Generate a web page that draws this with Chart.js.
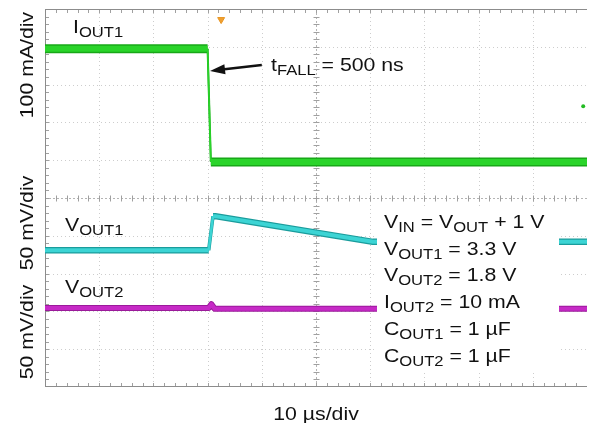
<!DOCTYPE html>
<html>
<head>
<meta charset="utf-8">
<script src="https://cdn.jsdelivr.net/npm/chart.js@4.4.1/dist/chart.umd.min.js"></script>
<style>
  html, body { margin: 0; padding: 0; background: #fff; }
  #scope { display: block; }
</style>
</head>
<body>
<canvas id="scope" width="592" height="423"></canvas>
<script>
// Time base: 10 us/div over 10 divisions
const timeSpanUs = 100;
const divisions = 10;

// I_OUT1 load step (mA)
const iout1TimeUs = [0, 30.0, 30.6, 100];
const iout1mA = [300, 300, 0, 0];

// V_OUT1 deviation from its DC level (mV)
const vout1TimeUs = [0, 30.2, 31.0, 31.4, 60.5, 100];
const vout1mV = [0, 0, 45, 45, 11, 11];

// V_OUT2 deviation from its DC level (mV)
const vout2TimeUs = [0, 30.2, 30.7, 31.3, 100];
const vout2mV = [0, 0, 5, -1, -1];

// Screen markers: trigger position and channel 1 reference
const triggerTimeUs = 32.5;
const ch1MarkerTimeUs = 99.3;
const ch1MarkerMA = 148;

// Channel settings: units per division and where zero sits (divisions from bottom)
const ch1 = { perDiv: 100, zeroDiv: 5.95 };
const ch2 = { perDiv: 50, zeroDiv: 3.62 };
const ch3 = { perDiv: 50, zeroDiv: 2.09 };

const axisLabels = ['100 mA/div', '50 mV/div', '50 mV/div'];
const timeLabel = '10 \u00b5s/div';
const conditions = [
  'V_{IN} = V_{OUT} + 1 V',
  'V_{OUT1} = 3.3 V',
  'V_{OUT2} = 1.8 V',
  'I_{OUT2} = 10 mA',
  'C_{OUT1} = 1 \u00b5F',
  'C_{OUT2} = 1 \u00b5F'
];

const FONT = '"Liberation Sans", Arial, Helvetica, sans-serif';
const FONT_SIZE = 18.5;
const STRETCH = 1.15;

function toPoints(xs, ys) {
  return xs.map((t, i) => ({ x: t, y: ys[i] }));
}

function channelRange(ch) {
  return { min: -ch.zeroDiv * ch.perDiv, max: (divisions - ch.zeroDiv) * ch.perDiv };
}

// Fast edges draw thin, like on the scope screen
function steep(ctx) {
  return Math.abs(ctx.p1.x - ctx.p0.x) < 6 && Math.abs(ctx.p1.y - ctx.p0.y) > 15;
}

function trace(data, axis, color, width, edgeWidth) {
  return {
    data: data,
    yAxisID: axis,
    borderColor: color,
    borderWidth: width,
    pointRadius: 0,
    tension: 0,
    borderJoinStyle: 'round',
    segment: {
      borderWidth: ctx => steep(ctx) ? edgeWidth : width
    }
  };
}

function line(ctx, x1, y1, x2, y2) {
  ctx.beginPath();
  ctx.moveTo(x1, y1);
  ctx.lineTo(x2, y2);
  ctx.stroke();
}

// Text with _{...} subscripts, slightly widened
function drawRich(ctx, text, x, y) {
  const parts = text.split(/_\{([^}]*)\}/);
  ctx.save();
  ctx.translate(x, y);
  ctx.scale(STRETCH, 1);
  ctx.textBaseline = 'alphabetic';
  ctx.textAlign = 'left';
  let cx = 0;
  parts.forEach((txt, i) => {
    const sub = i % 2 === 1;
    ctx.font = `${sub ? FONT_SIZE * 0.78 : FONT_SIZE}px ${FONT}`;
    ctx.fillText(txt, cx, sub ? 4 : 0);
    cx += ctx.measureText(txt).width;
  });
  ctx.restore();
}

function drawRotated(ctx, text, x, y) {
  ctx.save();
  ctx.translate(x, y);
  ctx.rotate(-Math.PI / 2);
  ctx.scale(STRETCH, 1);
  ctx.font = `${FONT_SIZE}px ${FONT}`;
  ctx.textAlign = 'center';
  ctx.textBaseline = 'alphabetic';
  ctx.fillText(text, 0, 0);
  ctx.restore();
}

const graticule = {
  id: 'graticule',
  beforeDatasetsDraw(chart) {
    const { ctx, chartArea: a, scales } = chart;
    const xs = scales.x, yd = scales.yDiv;
    const px = v => Math.round(xs.getPixelForValue(v)) + 0.5;
    const py = v => Math.round(yd.getPixelForValue(v)) + 0.5;
    const step = timeSpanUs / divisions;
    ctx.save();
    ctx.lineWidth = 1;

    // dotted division lines
    ctx.strokeStyle = '#cdcdcd';
    ctx.setLineDash([1, 3]);
    for (let k = 1; k < divisions; k++) {
      if (k === divisions / 2) continue;
      line(ctx, px(k * step), a.top, px(k * step), a.bottom);
      line(ctx, a.left, py(k), a.right, py(k));
    }

    // centre axes
    const cx = px(timeSpanUs / 2), cy = py(divisions / 2);
    ctx.strokeStyle = '#b4b4b4';
    ctx.setLineDash([2, 2]);
    line(ctx, cx, a.top, cx, a.bottom);
    line(ctx, a.left, cy, a.right, cy);
    ctx.setLineDash([]);

    // minor ticks every 1/5 division on centre axes and frame
    ctx.strokeStyle = '#a0a0a0';
    for (let m = 1; m < divisions * 5; m++) {
      const tx = px(m * step / 5);
      const ty = py(m / 5);
      line(ctx, tx, cy - 3, tx, cy + 3);
      line(ctx, cx - 3, ty, cx + 3, ty);
      line(ctx, tx, a.top, tx, a.top + 4);
      line(ctx, tx, a.bottom - 4, tx, a.bottom);
      line(ctx, a.left, ty, a.left + 4, ty);
    }

    // frame
    ctx.strokeStyle = '#8c8c8c';
    line(ctx, a.left + 0.5, a.top + 0.5, a.right, a.top + 0.5);
    line(ctx, a.left + 0.5, a.top, a.left + 0.5, a.bottom);
    line(ctx, a.left, a.bottom - 0.5, a.right, a.bottom - 0.5);
    ctx.restore();
  }
};

const annotations = {
  id: 'annotations',
  afterDatasetsDraw(chart) {
    const { ctx, chartArea: a, scales } = chart;
    ctx.save();
    ctx.fillStyle = '#111';

    // channel labels
    drawRich(ctx, 'I_{OUT1}', 73, 33);
    drawRich(ctx, 'V_{OUT1}', 65, 231);
    drawRich(ctx, 'V_{OUT2}', 65, 293);

    // fall time callout pointing at the I_OUT1 edge
    const tipX = scales.x.getPixelForValue(30.45);
    const tipY = scales.yI.getPixelForValue(241);
    const tailX = scales.x.getPixelForValue(40);
    const tailY = scales.yI.getPixelForValue(257);
    const ang = Math.atan2(tipY - tailY, tipX - tailX);
    ctx.strokeStyle = '#111';
    ctx.lineWidth = 2.5;
    line(ctx, tailX, tailY, tipX - 10 * Math.cos(ang), tipY - 10 * Math.sin(ang));
    ctx.beginPath();
    ctx.moveTo(tipX, tipY);
    ctx.lineTo(tipX - 15 * Math.cos(ang) + 5 * Math.sin(ang), tipY - 15 * Math.sin(ang) - 5 * Math.cos(ang));
    ctx.lineTo(tipX - 15 * Math.cos(ang) - 5 * Math.sin(ang), tipY - 15 * Math.sin(ang) + 5 * Math.cos(ang));
    ctx.closePath();
    ctx.fill();
    drawRich(ctx, 't_{FALL} = 500 ns', 271, 71);

    // test conditions on a white panel
    ctx.fillStyle = '#fff';
    ctx.fillRect(377, 207, 182, 163);
    ctx.fillStyle = '#111';
    conditions.forEach((c, i) => drawRich(ctx, c, 384, 228 + i * 26.7));

    // volts/div and time/div captions
    drawRotated(ctx, axisLabels[0], 33, 65);
    drawRotated(ctx, axisLabels[1], 33, 223);
    drawRotated(ctx, axisLabels[2], 33, 332);
    ctx.save();
    ctx.translate((a.left + a.right) / 2, 420);
    ctx.scale(STRETCH, 1);
    ctx.font = `${FONT_SIZE}px ${FONT}`;
    ctx.textAlign = 'center';
    ctx.fillText(timeLabel, 0, 0);
    ctx.restore();
    ctx.restore();
  }
};

// Core of each trace first: Chart.js paints earlier datasets on top
const green = trace(toPoints(iout1TimeUs, iout1mA), 'yI', '#2ad42a', 6, 1.6);
const greenEdge = trace(toPoints(iout1TimeUs, iout1mA), 'yI', '#18a818', 9, 2);
const cyan = trace(toPoints(vout1TimeUs, vout1mV), 'yV1', '#3cd4d4', 4, 2.5);
const cyanEdge = trace(toPoints(vout1TimeUs, vout1mV), 'yV1', '#1a9c9c', 6.5, 3.5);
const magenta = trace(toPoints(vout2TimeUs, vout2mV), 'yV2', '#c62ac6', 4, 3);
const magentaEdge = trace(toPoints(vout2TimeUs, vout2mV), 'yV2', '#9a1a9a', 6, 4);

new Chart(document.getElementById('scope'), {
  type: 'line',
  data: {
    datasets: [
      {
        data: [{ x: triggerTimeUs, y: 9.72 }],
        yAxisID: 'yDiv',
        showLine: false,
        pointStyle: 'triangle',
        rotation: 180,
        pointRadius: 4,
        pointBackgroundColor: '#f0a030',
        pointBorderColor: '#e89420',
        pointBorderWidth: 1
      },
      {
        data: [{ x: ch1MarkerTimeUs, y: ch1MarkerMA }],
        yAxisID: 'yI',
        showLine: false,
        pointRadius: 2,
        pointBackgroundColor: '#22bb22',
        pointBorderWidth: 0
      },
      green, greenEdge, cyan, cyanEdge, magenta, magentaEdge
    ]
  },
  options: {
    responsive: false,
    devicePixelRatio: 1,
    animation: false,
    events: [],
    layout: { padding: { left: 45, top: 9, right: 0, bottom: 36 } },
    plugins: { legend: { display: false }, tooltip: { enabled: false } },
    scales: {
      x: { type: 'linear', min: 0, max: timeSpanUs, display: false },
      yI: { type: 'linear', ...channelRange(ch1), display: false },
      yV1: { type: 'linear', ...channelRange(ch2), display: false },
      yV2: { type: 'linear', ...channelRange(ch3), display: false },
      yDiv: { type: 'linear', min: 0, max: divisions, display: false }
    }
  },
  plugins: [graticule, annotations]
});
</script>
</body>
</html>
